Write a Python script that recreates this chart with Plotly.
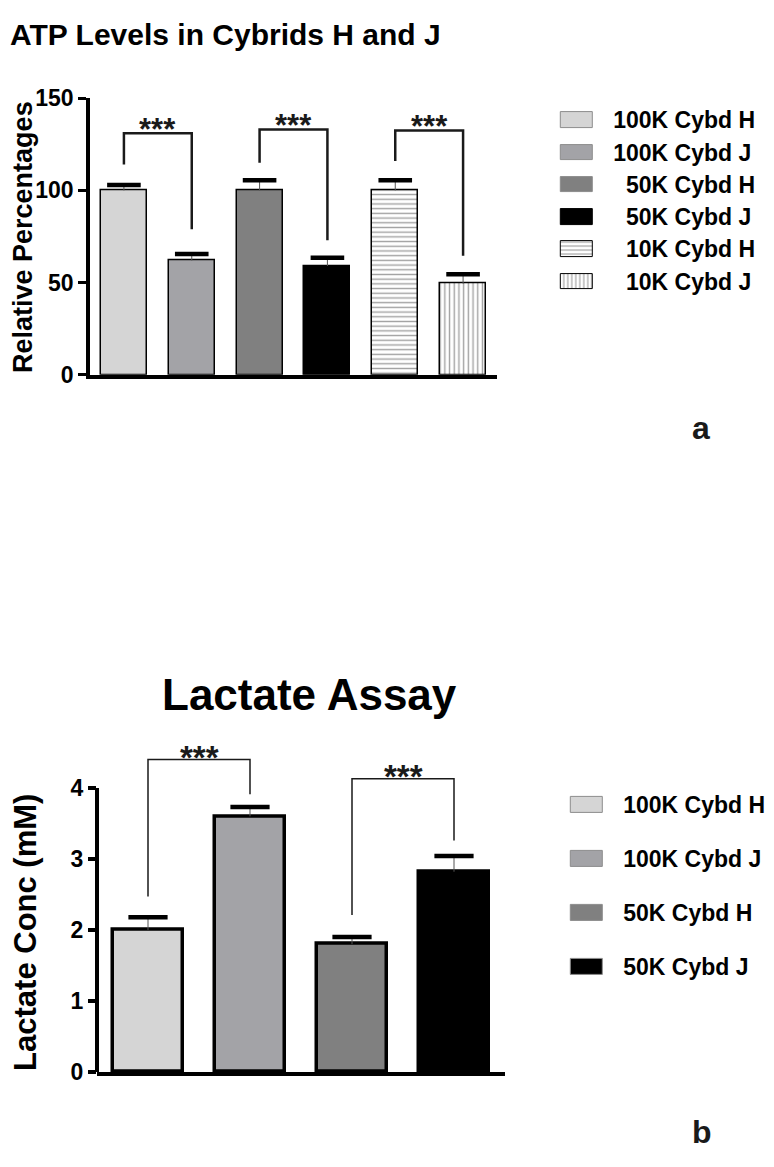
import plotly.graph_objects as go
import numpy as np

# ---------------- Panel a : ATP levels ----------------
atp_groups = ["100K Cybd H", "100K Cybd J", "50K Cybd H", "50K Cybd J", "10K Cybd H", "10K Cybd J"]
atp_values = [100, 62, 100, 59, 100, 49.5]
atp_errors = [3, 3.5, 5.5, 4.5, 5.5, 5]
atp_colors = ["#d5d5d5", "#a3a3a7", "#808080", "#000000", "#ffffff", "#ffffff"]
atp_patterns = ["", "", "", "", "-", "|"]
atp_ticks = [0, 50, 100, 150]
atp_pairs = [(0, 1), (2, 3), (4, 5)]
atp_bracket_top = [131, 133, 132.5]
atp_bracket_left = [114, 115, 116]
atp_bracket_right = [79, 73, 64.5]

# ---------------- Panel b : Lactate ----------------
lac_groups = ["100K Cybd H", "100K Cybd J", "50K Cybd H", "50K Cybd J"]
lac_values = [2.0, 3.6, 1.8, 2.82]
lac_errors = [0.18, 0.13, 0.1, 0.22]
lac_colors = ["#d5d5d5", "#a3a3a7", "#808080", "#000000"]
lac_ticks = [0, 1, 2, 3, 4]
lac_pairs = [(0, 1), (2, 3)]
lac_bracket_top = [4.40, 4.13]
lac_bracket_left = [2.47, 2.21]
lac_bracket_right = [3.91, 3.26]

sig_label = "***"
title_a = "ATP Levels in Cybrids H and J"
title_b = "Lactate Assay"
ylabel_a = "Relative Percentages"
ylabel_b = "Lactate Conc (mM)"

# page body has an 8px default margin; the figure is sized to fit the window
PAGE_OFF = 8
W, H = 766, 1150
FONT = "Liberation Sans, Arial, sans-serif"


def dx(px):
    return max(0.0, (px - PAGE_OFF) / W)


def dy(px):
    return 1 - (px - PAGE_OFF) / H


fig = go.Figure()

# ---- panel a bars ----
xa = list(range(len(atp_groups)))
fig.add_trace(go.Bar(
    x=xa, y=atp_values, width=0.68,
    marker=dict(color=atp_colors,
                line=dict(color="black", width=1.5),
                pattern=dict(shape=atp_patterns, fgcolor="black", size=4.7,
                             solidity=0.3, fillmode="overlay")),
    error_y=dict(type="data", symmetric=False, array=atp_errors,
                 arrayminus=[0] * len(atp_errors), thickness=1, width=0, color="#555555"),
    xaxis="x", yaxis="y", showlegend=False, hoverinfo="skip"))
fig.add_trace(go.Scatter(
    x=xa, y=list(np.array(atp_values) + np.array(atp_errors)), mode="markers",
    marker=dict(symbol="line-ew", size=24, line=dict(color="black", width=4.5)),
    xaxis="x", yaxis="y", showlegend=False, hoverinfo="skip"))

# ---- panel b bars ----
xb = list(range(len(lac_groups)))
fig.add_trace(go.Bar(
    x=xb, y=lac_values, width=0.68,
    marker=dict(color=lac_colors, line=dict(color="black", width=3.5)),
    error_y=dict(type="data", symmetric=False, array=lac_errors,
                 arrayminus=[0] * len(lac_errors), thickness=1, width=0, color="#555555"),
    xaxis="x2", yaxis="y2", showlegend=False, hoverinfo="skip"))
fig.add_trace(go.Scatter(
    x=xb, y=list(np.array(lac_values) + np.array(lac_errors)), mode="markers",
    marker=dict(symbol="line-ew", size=28, line=dict(color="black", width=4.5)),
    xaxis="x2", yaxis="y2", showlegend=False, hoverinfo="skip"))

# ---- legend swatches (as small horizontal bar subplots) ----
leg_a_text = [g if g.startswith("100") else "\u2007" + g for g in atp_groups]
fig.add_trace(go.Bar(
    x=[1] * len(atp_groups), y=list(range(len(atp_groups))), orientation="h", width=0.48,
    marker=dict(color=atp_colors,
                line=dict(color=["#8c8c8c", "#8c8c8c", "#8c8c8c", "#000000", "#000000", "#000000"], width=1),
                pattern=dict(shape=atp_patterns, fgcolor="black", size=4,
                             solidity=0.3, fillmode="overlay")),
    xaxis="x3", yaxis="y3", showlegend=False, hoverinfo="skip"))
fig.add_trace(go.Bar(
    x=[1] * len(lac_groups), y=list(range(len(lac_groups))), orientation="h", width=0.29,
    marker=dict(color=lac_colors, line=dict(color="#8c8c8c", width=1)),
    xaxis="x4", yaxis="y4", showlegend=False, hoverinfo="skip"))

# ---- significance brackets ----
shapes = []
annotations = []
for (i, j), top, lb, rb in zip(atp_pairs, atp_bracket_top, atp_bracket_left, atp_bracket_right):
    shapes.append(dict(type="path", xref="x", yref="y",
                       path=f"M {i},{lb} L {i},{top} L {j},{top} L {j},{rb}",
                       line=dict(color="#1a1a1a", width=2.5)))
    annotations.append(dict(x=(i + j) / 2, y=top + 2, xref="x", yref="y", text=sig_label,
                            showarrow=False, yanchor="middle",
                            font=dict(family=FONT, size=31, color="#1a1a1a", weight="bold")))
for (i, j), top, lb, rb in zip(lac_pairs, lac_bracket_top, lac_bracket_left, lac_bracket_right):
    shapes.append(dict(type="path", xref="x2", yref="y2",
                       path=f"M {i},{lb} L {i},{top} L {j},{top} L {j},{rb}",
                       line=dict(color="#1a1a1a", width=1.5)))
    annotations.append(dict(x=(i + j) / 2, y=top + 0.03, xref="x2", yref="y2", text=sig_label,
                            showarrow=False, yanchor="middle",
                            font=dict(family=FONT, size=33, color="#1a1a1a", weight="bold")))

# panel b y axis line only up to the last tick
shapes.append(dict(type="line", xref="x2 domain", yref="y2", x0=0, x1=0,
                   y0=lac_ticks[0], y1=lac_ticks[-1], line=dict(color="black", width=4)))

# ---- titles / labels ----
annotations += [
    dict(x=dx(5), y=dy(22), xref="paper", yref="paper", text=title_a, showarrow=False,
         xanchor="left", yanchor="middle",
         font=dict(family=FONT, size=30, color="black", weight="bold")),
    dict(x=dx(309), y=dy(697), xref="paper", yref="paper", text=title_b, showarrow=False,
         xanchor="center", yanchor="middle",
         font=dict(family=FONT, size=44, color="black", weight="bold")),
    dict(x=dx(23), y=dy(229), xref="paper", yref="paper", text=ylabel_a, showarrow=False,
         textangle=-90, xanchor="center", yanchor="middle",
         font=dict(family=FONT, size=27, color="black", weight="bold")),
    dict(x=dx(26), y=dy(941), xref="paper", yref="paper", text=ylabel_b, showarrow=False,
         textangle=-90, xanchor="center", yanchor="middle",
         font=dict(family=FONT, size=31, color="black", weight="bold")),
    dict(x=dx(701), y=dy(424), xref="paper", yref="paper", text="a", showarrow=False,
         xanchor="center", yanchor="middle",
         font=dict(family=FONT, size=32, color="#1a1a1a", weight="bold")),
    dict(x=dx(702), y=dy(1145), xref="paper", yref="paper", text="b", showarrow=False,
         xanchor="center", yanchor="middle",
         font=dict(family=FONT, size=32, color="#1a1a1a", weight="bold")),
]

tickfont = dict(family=FONT, size=23, color="black", weight="bold")
legfont = dict(family=FONT, size=23, color="black", weight="bold")

fig.update_layout(
    width=W, height=H, margin=dict(l=0, r=0, t=0, b=0),
    paper_bgcolor="white", plot_bgcolor="white", showlegend=False,
    bargap=0,
    shapes=shapes, annotations=annotations,
    xaxis=dict(domain=[dx(90), dx(497)], range=[-0.5, len(atp_groups) - 0.5], anchor="y",
               showline=True, linecolor="black", linewidth=3.5, ticks="", showticklabels=False,
               showgrid=False, zeroline=False),
    yaxis=dict(domain=[dy(370), dy(87)], range=[0, 150], anchor="x",
               showline=True, linecolor="black", linewidth=3.5, ticks="outside", ticklen=8,
               tickwidth=3, tickcolor="black", tickvals=atp_ticks, tickfont=tickfont,
               showgrid=False, zeroline=False),
    xaxis2=dict(domain=[dx(97), dx(505)], range=[-0.5, len(lac_groups) - 0.5], anchor="y2",
                showline=True, linecolor="black", linewidth=4, ticks="", showticklabels=False,
                showgrid=False, zeroline=False),
    yaxis2=dict(domain=[dy(1083.3), dy(738.2)], range=[0, 4.75], anchor="x2",
                showline=False, ticks="outside", ticklen=8, tickwidth=3.5, tickcolor="black",
                tickvals=lac_ticks, tickfont=tickfont, showgrid=False, zeroline=False),
    xaxis3=dict(domain=[dx(557.8), dx(596.2)], range=[-0.1, 1.1], anchor="y3", visible=False),
    yaxis3=dict(domain=[dy(291), dy(93)], range=[len(atp_groups) - 0.5, -0.5], anchor="x3",
                side="right", showline=False, ticks="", showgrid=False, zeroline=False,
                tickvals=list(range(len(atp_groups))), ticktext=leg_a_text,
                ticklabelstandoff=16, tickfont=legfont),
    xaxis4=dict(domain=[dx(567.8), dx(606.2)], range=[-0.1, 1.1], anchor="y4", visible=False),
    yaxis4=dict(domain=[dy(1003.6), dy(782.4)], range=[len(lac_groups) - 0.5, -0.5], anchor="x4",
                side="right", showline=False, ticks="", showgrid=False, zeroline=False,
                tickvals=list(range(len(lac_groups))), ticktext=lac_groups,
                ticklabelstandoff=16, tickfont=legfont),
)

fig.write_html("out.html")
